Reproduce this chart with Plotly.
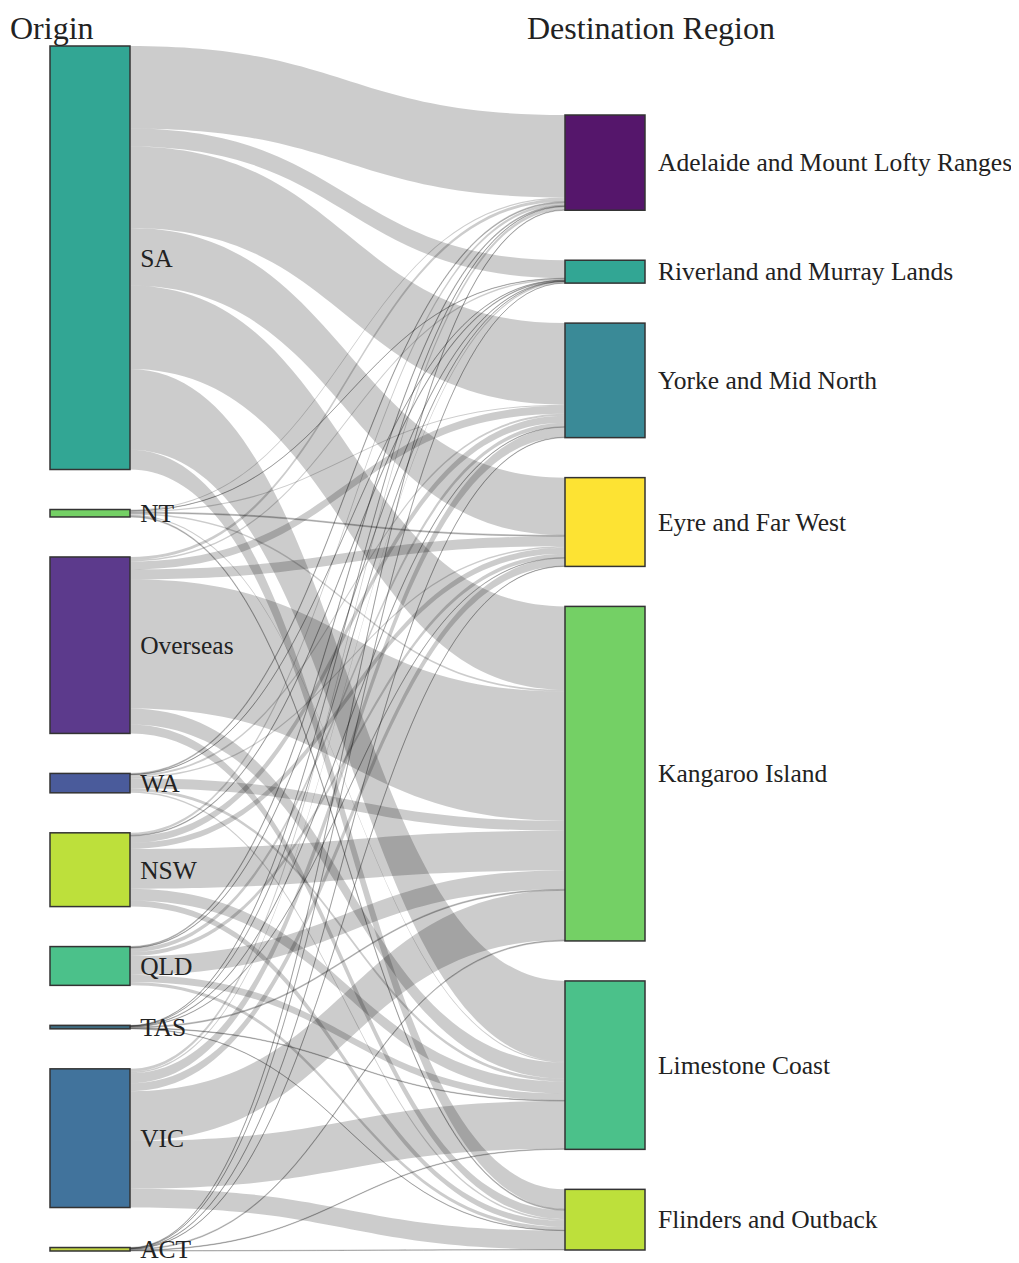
import plotly.graph_objects as go

# node names
origins = ['SA', 'NT', 'Overseas', 'WA', 'NSW', 'QLD', 'TAS', 'VIC', 'ACT']
regions = ['Adelaide and Mount Lofty Ranges', 'Riverland and Murray Lands',
           'Yorke and Mid North', 'Eyre and Far West', 'Kangaroo Island',
           'Limestone Coast', 'Flinders and Outback']

# visitors from each origin to each region (same order as regions)
sa       = [83, 18, 82, 58, 84, 81, 20]
nt       = [1.2, 0.3, 1.2, 1.0, 1.6, 1.2, 1.0]
overseas = [3, 1.5, 8, 10, 130, 16, 9]
wa       = [1, 0.3, 2, 1.5, 10, 3, 1.7]
nsw      = [2.5, 0.7, 7, 6, 40, 12, 6]
qld      = [1, 0.5, 4, 4, 19, 7, 3.5]
tas      = [0.5, 0.1, 0.5, 0.4, 1.0, 0.6, 0.4]
vic      = [3, 1.5, 10, 8, 50, 48, 19]
act      = [0.6, 0.1, 0.5, 0.4, 0.9, 0.6, 0.4]
flows = [sa, nt, overseas, wa, nsw, qld, tas, vic, act]

origin_colors = ['#32a694', '#74d065', '#5c3a8c', '#4a5b9b', '#bde03b',
                 '#4bc18a', '#3d6b80', '#41739c', '#c2d443']
region_colors = ['#55166b', '#32a694', '#3a8a97', '#fde333', '#74d065',
                 '#4bc18a', '#bde03b']

# page has an 8px body margin, so the figure is 8px smaller than the window
W, H = 1011, 1255
top, bottom = 38, 12
plot_h = H - top - bottom
pad = 40
right_gaps = [69, 50, 40, 40, 40, 40, 40]   # space above each region node
font = 'Liberation Serif'

source, target, value = [], [], []
for i, row in enumerate(flows):
    for j, v in enumerate(row):
        source.append(i)
        target.append(len(origins) + j)
        value.append(v)

origin_tot = [sum(r) for r in flows]
region_tot = [sum(r[j] for r in flows) for j in range(len(regions))]

# same scale plotly's sankey uses (tallest column fills the height)
ky = (plot_h - pad * (len(origins) - 1)) / sum(origin_tot)

node_x, node_y = [], []
y = 0
for t in origin_tot:
    node_x.append(82 / W)
    node_y.append((y + t * ky / 2) / plot_h)
    y += t * ky + pad
region_y = []
y = 0
for t, g in zip(region_tot, right_gaps):
    y += g
    node_x.append(597 / W)
    node_y.append((y + t * ky / 2) / plot_h)
    region_y.append((y + t * ky / 2) / plot_h)
    y += t * ky

# plotly puts last-column labels inside; region names go on the right as annotations
labels = ['\u00a0' + o for o in origins] + [''] * len(regions)

fig = go.Figure(go.Sankey(
    arrangement='snap',
    node=dict(
        label=labels,
        customdata=origins + regions,
        hovertemplate='%{customdata}<br>%{value}<extra></extra>',
        color=origin_colors + region_colors,
        x=node_x,
        y=node_y,
        pad=pad,
        thickness=80,
        line=dict(color='#333333', width=1.5),
    ),
    link=dict(source=source, target=target, value=value,
              color='rgba(0,0,0,0.2)'),
    textfont=dict(family=font, size=25.5, color='#222222', shadow='none'),
))

for name, ry in zip(regions, region_y):
    fig.add_annotation(text=name, x=648 / W, y=1 - ry, xref='paper', yref='paper',
                       xanchor='left', yanchor='middle', showarrow=False,
                       font=dict(family=font, size=25.5, color='#222222'))

for name, px in [('Origin', 1), ('Destination Region', 518)]:
    fig.add_annotation(text=name, x=px / W, y=1 + 18.5 / plot_h, xref='paper', yref='paper',
                       xanchor='left', yanchor='middle', showarrow=False, borderpad=0,
                       font=dict(family=font, size=32, color='#222222'))

fig.update_layout(width=W, height=H, margin=dict(l=0, r=0, t=top, b=bottom),
                  paper_bgcolor='white', plot_bgcolor='white')

fig.write_html('out.html')
